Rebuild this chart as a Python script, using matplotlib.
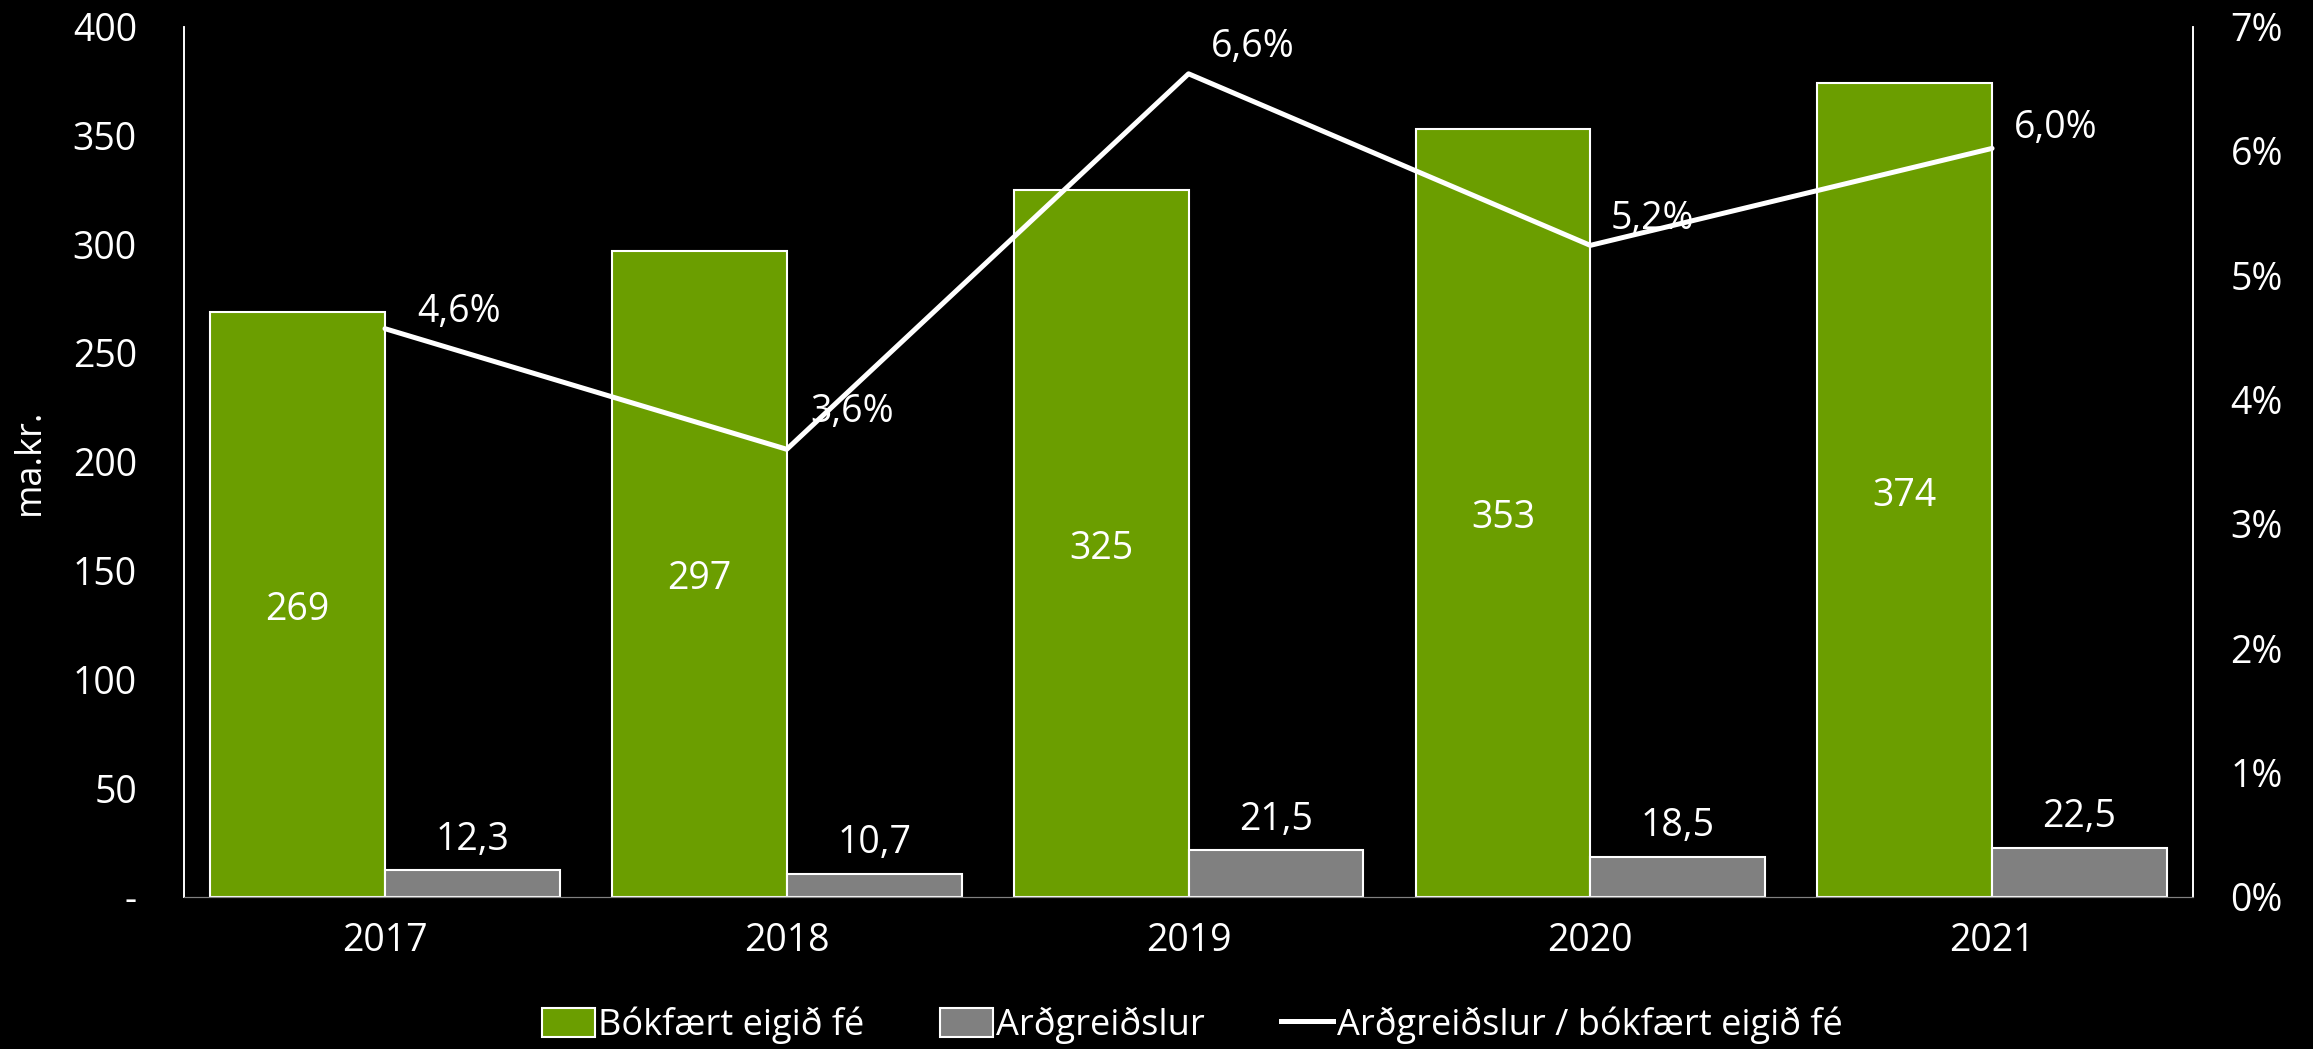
import matplotlib
matplotlib.use("Agg")
import matplotlib.pyplot as plt
import numpy as np
from matplotlib.patches import Patch
from matplotlib.lines import Line2D

years = ["2017", "2018", "2019", "2020", "2021"]
equity = [269, 297, 325, 353, 374]             # Bókfært eigið fé
dividends = [12.3, 10.7, 21.5, 18.5, 22.5]     # Arðgreiðslur
ratio = [4.57, 3.60, 6.62, 5.24, 6.02]         # Arðgreiðslur / bókfært eigið fé (%)

left_ticks = [0, 50, 100, 150, 200, 250, 300, 350, 400]
left_labels = ["-", "50", "100", "150", "200", "250", "300", "350", "400"]
right_ticks = [0, 1, 2, 3, 4, 5, 6, 7]

GREEN = "#6b9e00"
GRAY = "#808080"
FS = 27

plt.rcParams['font.family'] = ['Open Sans', 'DejaVu Sans']

fig = plt.figure(figsize=(23.13, 10.49), dpi=100, facecolor="black")
ax = fig.add_axes([0.0796, 0.145, 0.8685, 0.8297])
ax.set_facecolor("black")
ax2 = ax.twinx()

x = np.arange(len(years))
w = 0.435
b1 = ax.bar(x - w / 2, equity, w, color=GREEN, edgecolor="white", linewidth=1.5)
b2 = ax.bar(x + w / 2, dividends, w, color=GRAY, edgecolor="white", linewidth=1.5)

for rect, v in zip(b1, equity):
    ax.annotate(str(v), (rect.get_x() + rect.get_width() / 2, v / 2),
                xytext=(0, -4), textcoords="offset points", color="white",
                fontsize=FS, ha="center", va="center")
for rect, v in zip(b2, dividends):
    ax.annotate(f"{v:.1f}".replace(".", ","), (rect.get_x() + rect.get_width() / 2, v),
                xytext=(0, 22), textcoords="offset points", color="white",
                fontsize=FS, ha="center", va="center")

ax.set_xlim(-0.5, len(years) - 0.5)
ax.set_ylim(0, 400)
ax.set_yticks(left_ticks)
ax.set_yticklabels(left_labels)
ax.set_xticks(x)
ax.set_xticklabels(years)
ax.set_ylabel("ma.kr.", color="white", fontsize=26, labelpad=18)
ax.tick_params(colors="white", labelsize=FS, length=0)
ax.tick_params(axis="y", pad=34)
ax.tick_params(axis="x", pad=18)

ax2.plot(x, ratio, color="white", linewidth=3.6, solid_capstyle="round")
# label offsets (points) as placed in the original
offsets = [(53, 12), (47, 27), (46, 19), (45, 19), (46, 15)]
for xi, r, off in zip(x, ratio, offsets):
    ax2.annotate(f"{r:.1f}%".replace(".", ","), (xi, r), xytext=off,
                 textcoords="offset points", color="white", fontsize=FS,
                 ha="center", va="center")
ax2.set_ylim(0, 7)
ax2.set_yticks(right_ticks)
ax2.set_yticklabels([f"{t}%" for t in right_ticks])
ax2.tick_params(colors="white", labelsize=FS, length=0, pad=27)

for a in (ax, ax2):
    a.spines["top"].set_visible(False)
    a.spines["left"].set_color("white")
    a.spines["right"].set_color("white")
    a.spines["bottom"].set_color(GRAY)
    a.spines["left"].set_linewidth(1.2)
    a.spines["right"].set_linewidth(1.2)

handles = [Patch(facecolor=GREEN, edgecolor="white", linewidth=1.5),
           Patch(facecolor=GRAY, edgecolor="white", linewidth=1.5),
           Line2D([0], [0], color="white", linewidth=3.6)]
labels = ["Bókfært eigið fé", "Arðgreiðslur", "Arðgreiðslur / bókfært eigið fé"]
fig.legend(handles, labels, loc="center", bbox_to_anchor=(0.5155, 0.023), ncol=3,
           frameon=False, fontsize=26, labelcolor="white", handlelength=1.45,
           handleheight=0.85, handletextpad=0.1, columnspacing=2.1)

fig.savefig("out.png", dpi=100, facecolor="black")
